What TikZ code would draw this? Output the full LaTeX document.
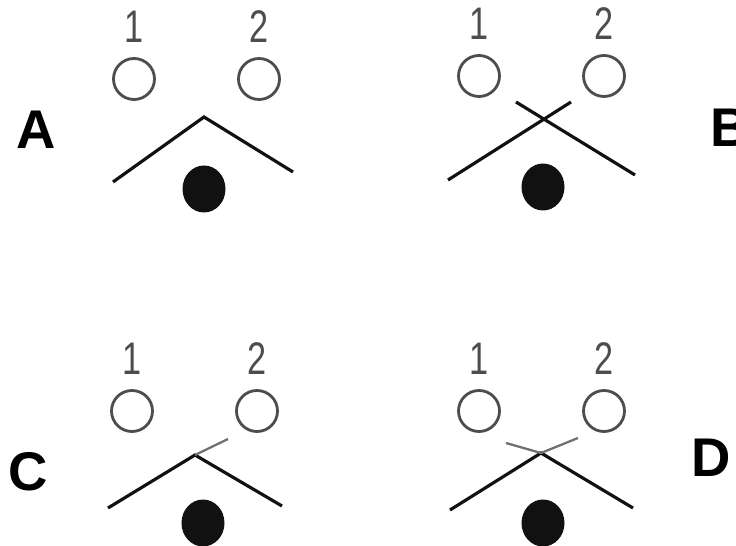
\documentclass[tikz,border=0pt]{standalone}
\usepackage{fontspec}
\setmainfont{Liberation Sans}
\usepackage{graphicx}
\usepackage{tikz}
\usetikzlibrary{shapes.geometric}
\definecolor{ink}{HTML}{111111}
\definecolor{ring}{HTML}{4D4D4D}
\definecolor{faint}{HTML}{707070}
\newcommand{\nlbl}[1]{\scalebox{0.75}[1]{#1}}

\begin{document}
\begin{tikzpicture}[x=0.02cm,y=-0.02cm,
  site/.style={circle,draw=ring,line width=1.6pt,minimum size=0.82cm,inner sep=0pt},
  src/.style={ellipse,fill=ink,minimum width=0.86cm,minimum height=0.94cm,inner sep=0pt},
  num/.style={text=ring,font=\fontsize{26}{26}\selectfont,inner sep=0pt},
  case/.style={font=\fontsize{31}{31}\selectfont\bfseries,inner sep=0pt},
  wire/.style={ink,line width=1.8pt},
  stub/.style={faint,line width=1.3pt}]
\useasboundingbox (0,0) rectangle (736,546);
% receivers and their numbers
\foreach \p/\x/\y in {A/134/79,B/479/76,C/132/411,D/479/411} {
  \node[site] (\p1) at (\x,\y) {};
  \node[site] (\p2) at (\x+125,\y) {};
  \node[num] (n\p1) at (\x,\y-52) {\nlbl{1}};
  \node[num] (n\p2) at (\x+125,\y-52) {\nlbl{2}};
}
% sources
\node[src] (sA) at (204,189) {};
\node[src] (sB) at (543,187) {};
\node[src] (sC) at (203,523) {};
\node[src] (sD) at (543,523) {};
% case letters
\node[case] (lA) at (36,130) {A};
\node[case,anchor=west] (lB) at (710,128) {B};
\node[case] (lC) at (28,472) {C};
\node[case] (lD) at (711,458) {D};
% A: plain roof
\coordinate (a1) at (113,182); \coordinate (a2) at (204,117); \coordinate (a3) at (293,172);
\draw[wire,line join=miter] (a1) -- (a2) -- (a3);
% B: crossing
\coordinate (b1) at (448,180); \coordinate (b2) at (571,102);
\coordinate (b3) at (516,102); \coordinate (b4) at (635,175);
\draw[wire] (b1) -- (b2);
\draw[wire] (b3) -- (b4);
% C: one arm runs on
\coordinate (c1) at (108,508); \coordinate (cx) at (195,455);
\coordinate (c2) at (228,439); \coordinate (c3) at (282,506);
\draw[wire] (c1) -- (cx) -- (c3);
\draw[stub] (cx) -- (c2);
% D: both arms run on
\coordinate (d1) at (450,510); \coordinate (dx) at (541,453);
\coordinate (d2) at (578,438); \coordinate (d3) at (506,443); \coordinate (d4) at (633,508);
\draw[wire] (d1) -- (dx) -- (d4);
\draw[stub] (dx) -- (d2);
\draw[stub] (d3) -- (dx);
\end{tikzpicture}
\end{document}
